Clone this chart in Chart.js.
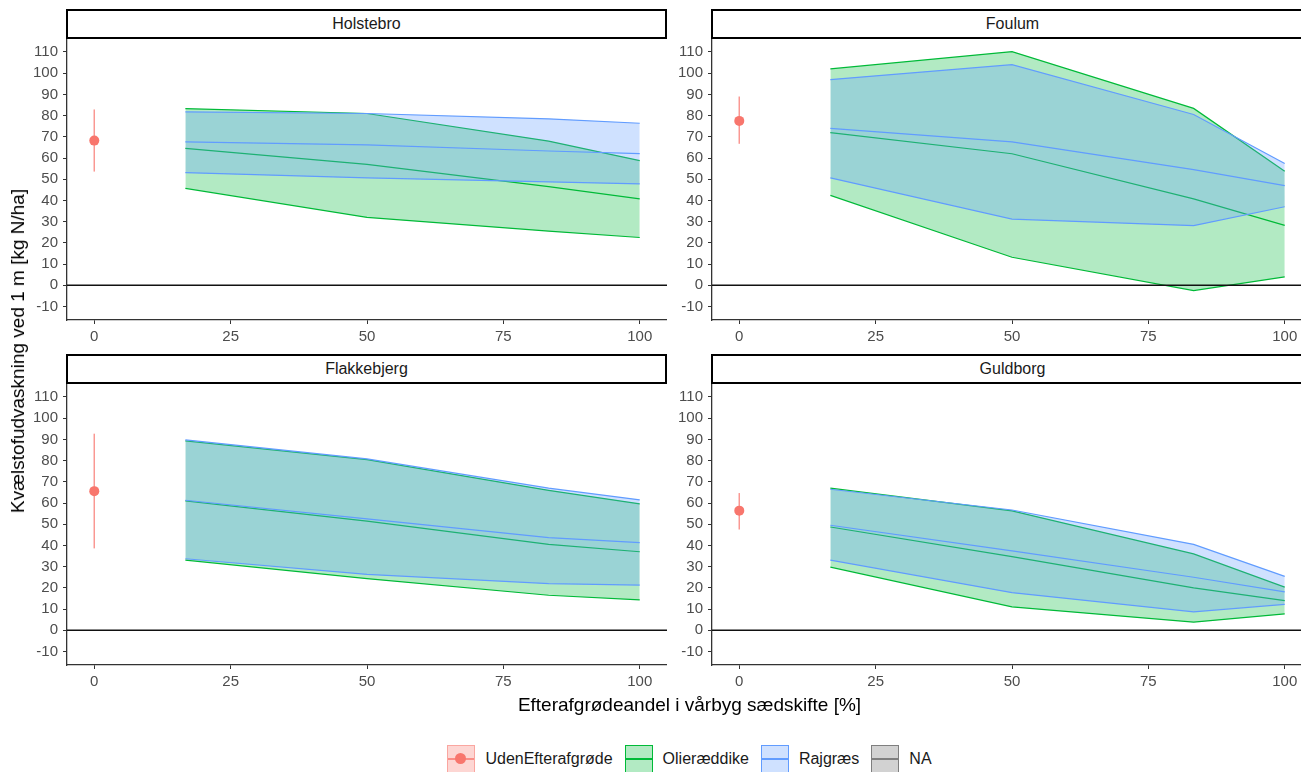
<!DOCTYPE html>
<html lang="da">
<head>
<meta charset="utf-8">
<script src="https://cdn.jsdelivr.net/npm/chart.js@4/dist/chart.umd.min.js"></script>
<style>
html, body { margin: 0; padding: 0; overflow: hidden; background: #fff; }
#figur { position: relative; width: 1301px; height: 772px; overflow: hidden; font-family: 'Liberation Sans', Arial, sans-serif; }
#figur canvas { position: absolute; }
.strip { position: absolute; box-sizing: border-box; height: 30px; border: 2px solid #000; background: #fff;
         font-size: 16px; color: #1a1a1a; text-align: center; line-height: 26px; }
#xtitel { position: absolute; left: 0; width: 1379px; top: 694px; text-align: center; font-size: 19px; color: #000; }
#ytitel { position: absolute; left: 18px; top: 351px; transform: translate(-50%, -50%) rotate(-90deg);
          white-space: nowrap; font-size: 19px; color: #000; }
#legende { position: absolute; left: 0; width: 1379px; top: 745px; display: flex; justify-content: center; align-items: center; }
.punkt { display: flex; align-items: center; margin: 0 6px; }
.noegle { position: relative; box-sizing: border-box; width: 28px; height: 28px; border: 1.5px solid; margin-right: 10px; }
.noegle .streg { position: absolute; left: 0; right: 0; top: 12px; height: 1.5px; }
.noegle .prik { position: absolute; left: 7px; top: 6.5px; width: 11px; height: 11px; border-radius: 50%; }
.punkt span { font-size: 16px; color: #1a1a1a; }
</style>
</head>
<body>
<div id="figur">
  <canvas id="panel0" width="640" height="312" style="left:27px; top:38px;"></canvas>
  <canvas id="panel1" width="640" height="312" style="left:672px; top:38px;"></canvas>
  <canvas id="panel2" width="640" height="312" style="left:27px; top:383px;"></canvas>
  <canvas id="panel3" width="640" height="312" style="left:672px; top:383px;"></canvas>
  <div class="strip" id="strip0" style="left:66px; top:9px; width:601px;"></div>
  <div class="strip" id="strip1" style="left:711px; top:9px; width:603px;"></div>
  <div class="strip" id="strip2" style="left:66px; top:354px; width:601px;"></div>
  <div class="strip" id="strip3" style="left:711px; top:354px; width:603px;"></div>
  <div id="ytitel">Kvælstofudvaskning ved 1 m [kg N/ha]</div>
  <div id="xtitel">Efterafgrødeandel i vårbyg sædskifte [%]</div>
  <div id="legende"></div>
</div>
<script>
// lokaliteter (facetter)
const lokaliteter = ['Holstebro', 'Foulum', 'Flakkebjerg', 'Guldborg'];

// efterafgrødeandel i vårbyg sædskifte [%]
const andel = [16.7, 50, 83.3, 100];

// Olieræddike: nedre, midt, øvre (én række pr. lokalitet)
const olieNedre = [
    [45.7, 32.0, 25.5, 22.5],
    [42.4, 13.2, -2.5, 3.9],
    [33.1, 24.3, 16.5, 14.3],
    [29.8, 11.0, 3.8, 7.7]
];
const olieMidt = [
    [64.5, 57.0, 46.5, 40.7],
    [72.0, 62.0, 40.7, 28.2],
    [61.0, 51.5, 40.5, 37.0],
    [48.7, 34.7, 20.0, 14.0]
];
const olieOevre = [
    [83.3, 81.0, 68.0, 58.8],
    [102.0, 110.2, 83.4, 53.7],
    [89.3, 80.5, 66.0, 59.6],
    [67.0, 56.3, 36.0, 20.3]
];

// Rajgræs: nedre, midt, øvre
const rajNedre = [
    [53.1, 50.6, 48.7, 47.8],
    [50.6, 31.2, 28.1, 37.0],
    [33.7, 26.3, 22.0, 21.3],
    [33.1, 17.7, 8.7, 12.2]
];
const rajMidt = [
    [67.6, 66.2, 63.3, 62.1],
    [74.0, 67.6, 54.5, 47.0],
    [61.3, 52.5, 43.7, 41.3],
    [49.5, 37.4, 25.0, 18.1]
];
const rajOevre = [
    [81.8, 81.0, 78.5, 76.4],
    [97.0, 104.0, 80.5, 57.4],
    [89.8, 80.8, 67.0, 61.5],
    [66.5, 56.7, 40.5, 25.4]
];

// Uden efterafgrøde (ved 0 %): punkt og fejlstreg
const udenMidt = [68.2, 77.5, 65.6, 56.4];
const udenNedre = [53.6, 66.7, 38.6, 47.5];
const udenOevre = [82.9, 89.0, 92.7, 64.7];

// aksemærker
const xTicks = [0, 25, 50, 75, 100];
const yTicks = [-10, 0, 10, 20, 30, 40, 50, 60, 70, 80, 90, 100, 110];

const roed = '#F8766D';
const groen = '#00BA38';
const blaa = '#619CFF';

Chart.defaults.font.family = "'Liberation Sans', Arial, sans-serif";

function punkter(arr) {
    return andel.map((x, j) => ({ x: x, y: arr[j] }));
}

// vandret linje ved 0
const nulLinje = {
    id: 'nulLinje',
    afterDatasetsDraw(chart) {
        const ctx = chart.ctx;
        const y = chart.scales.y.getPixelForValue(0);
        ctx.save();
        ctx.strokeStyle = '#111';
        ctx.lineWidth = 1.5;
        ctx.beginPath();
        ctx.moveTo(chart.chartArea.left, y);
        ctx.lineTo(chart.chartArea.right, y);
        ctx.stroke();
        ctx.restore();
    }
};

function linje(data, farve, fyld) {
    return {
        data: data,
        borderColor: farve,
        borderWidth: 1.2,
        pointRadius: 0,
        tension: 0,
        fill: fyld || false
    };
}

function lagPanel(i) {
    document.getElementById('strip' + i).textContent = lokaliteter[i];
    const ctx = document.getElementById('panel' + i).getContext('2d');

    // Chart.js tegner sidste datasæt først, så rækkefølgen er omvendt
    const datasets = [
        {
            data: [{ x: 0, y: udenMidt[i] }],
            showLine: false,
            pointRadius: 5,
            pointBackgroundColor: roed,
            pointBorderColor: roed,
            pointBorderWidth: 0
        },
        {
            data: [{ x: 0, y: udenNedre[i] }, { x: 0, y: udenOevre[i] }],
            borderColor: 'rgba(248,118,109,0.75)',
            borderWidth: 1.5,
            pointRadius: 0,
            fill: false
        },
        linje(punkter(rajMidt[i]), blaa),
        linje(punkter(rajOevre[i]), blaa, { target: 4, above: 'rgba(97,156,255,0.3)', below: 'rgba(97,156,255,0.3)' }),
        linje(punkter(rajNedre[i]), blaa),
        linje(punkter(olieMidt[i]), groen),
        linje(punkter(olieOevre[i]), groen, { target: 7, above: 'rgba(0,186,56,0.3)', below: 'rgba(0,186,56,0.3)' }),
        linje(punkter(olieNedre[i]), groen)
    ];

    return new Chart(ctx, {
        type: 'line',
        data: { datasets: datasets },
        options: {
            responsive: false,
            animation: false,
            devicePixelRatio: 1,
            layout: { padding: 0, autoPadding: false },
            plugins: {
                legend: { display: false },
                tooltip: { enabled: false }
            },
            scales: {
                x: {
                    type: 'linear',
                    min: -5,
                    max: 105,
                    afterBuildTicks: s => { s.ticks = xTicks.map(v => ({ value: v })); },
                    afterFit: s => { s.height = 30; s.paddingLeft = 0; s.paddingRight = 0; },
                    grid: { drawOnChartArea: false, drawTicks: true, tickLength: 4, color: '#333', tickWidth: 1 },
                    border: { display: true, color: '#333', width: 1.3 },
                    ticks: { autoSkip: false, maxRotation: 0, padding: 4, color: '#4d4d4d', font: { size: 15 } }
                },
                y: {
                    type: 'linear',
                    min: -16.4,
                    max: 116.6,
                    afterBuildTicks: s => { s.ticks = yTicks.map(v => ({ value: v })); },
                    afterFit: s => { s.width = 40; s.paddingTop = 0; s.paddingBottom = 0; },
                    grid: { drawOnChartArea: false, drawTicks: true, tickLength: 4, color: '#333', tickWidth: 1 },
                    border: { display: true, color: '#333', width: 1.3 },
                    ticks: { autoSkip: false, padding: 5, color: '#4d4d4d', font: { size: 15 } }
                }
            }
        },
        plugins: [nulLinje]
    });
}

lokaliteter.forEach((navn, i) => lagPanel(i));

// legende
const legendeNavne = ['UdenEfterafgrøde', 'Olieræddike', 'Rajgræs', 'NA'];
const legendeFarver = [roed, groen, blaa, '#7f7f7f'];
const legendeFyld = ['rgba(248,118,109,0.3)', 'rgba(0,186,56,0.3)', 'rgba(97,156,255,0.3)', 'rgba(127,127,127,0.35)'];
const legende = document.getElementById('legende');
legendeNavne.forEach((navn, k) => {
    const punkt = document.createElement('div');
    punkt.className = 'punkt';
    const noegle = document.createElement('div');
    noegle.className = 'noegle';
    noegle.style.background = legendeFyld[k];
    noegle.style.borderColor = k === 0 ? 'rgba(248,118,109,0.5)' : legendeFarver[k];
    const streg = document.createElement('div');
    streg.className = 'streg';
    streg.style.background = k === 0 ? 'rgba(248,118,109,0.75)' : legendeFarver[k];
    noegle.appendChild(streg);
    if (k === 0) {
        const prik = document.createElement('div');
        prik.className = 'prik';
        prik.style.background = roed;
        noegle.appendChild(prik);
    }
    const tekst = document.createElement('span');
    tekst.textContent = navn;
    punkt.appendChild(noegle);
    punkt.appendChild(tekst);
    legende.appendChild(punkt);
});
</script>
</body>
</html>
